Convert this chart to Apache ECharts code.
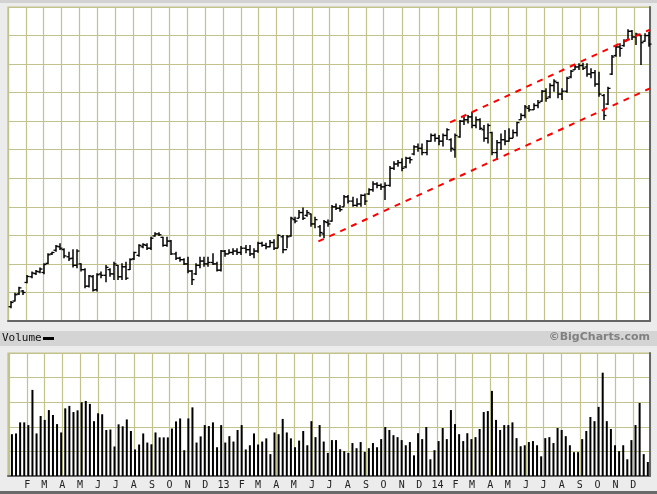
<!DOCTYPE html>
<html>
<head>
<meta charset="utf-8">
<script src="https://cdn.jsdelivr.net/npm/echarts@6/dist/echarts.min.js"></script>
<style>
html, body { margin: 0; padding: 0; background: #ececec; }
#chart { width: 657px; height: 494px; }
</style>
</head>
<body>
<div id="chart"></div>
<script>
// weekly OHLC bars, first bar is the week of 2012-01-06
const firstWeek = '2012-01-06';

const opens = [
  5.0, 7.0, 9.5, 10.5, 13.5, 15.5, 16.6, 17.2, 17.0, 20.2,
  23.5, 24.8, 26.0, 25.0, 22.5, 22.0, 19.5, 20.0, 18.0, 12.2,
  15.5, 11.0, 16.5, 16.0, 18.0, 16.5, 19.5, 15.5, 19.0, 18.0,
  21.8, 23.0, 26.0, 26.5, 25.5, 29.8, 30.5, 29.3, 26.5, 28.0,
  23.5, 22.0, 21.5, 20.0, 17.5, 16.5, 19.5, 21.0, 20.0, 20.5,
  20.0, 17.8, 24.5, 23.5, 24.0, 24.5, 24.0, 25.5, 25.0, 23.5,
  24.5, 27.2, 26.5, 26.0, 27.5, 25.5, 29.5, 25.0, 29.8, 35.5,
  36.0, 38.0, 37.0, 37.5, 34.0, 33.0, 30.5, 34.5, 35.0, 40.0,
  39.5, 40.0, 43.5, 42.0, 40.5, 41.0, 44.0, 44.5, 46.0, 48.0,
  47.5, 47.0, 47.5, 53.5, 55.0, 55.5, 54.0, 57.0, 58.5, 61.0,
  60.5, 59.0, 63.0, 65.0, 64.0, 63.0, 65.0, 63.5, 60.0, 64.5,
  70.0, 70.5, 71.5, 68.5, 70.5, 67.0, 64.0, 66.0, 59.0, 62.5,
  63.5, 63.0, 64.0, 66.0, 70.5, 72.0, 74.5, 74.0, 75.5, 77.0,
  80.5, 78.5, 82.5, 83.5, 79.5, 80.5, 85.5, 88.0, 89.0, 89.5,
  89.0, 86.5, 87.0, 83.0, 79.0, 76.0, 86.5, 93.0, 96.0, 96.5,
  98.5, 101.5, 99.5, 100.0, 98.0, 100.0
];
const highs = [
  7.0, 9.9, 12.0, 10.9, 16.1, 17.3, 17.9, 18.7, 20.2, 23.7,
  24.3, 26.6, 27.2, 25.5, 24.3, 25.1, 25.1, 20.2, 18.5, 16.1,
  16.1, 16.7, 17.3, 19.6, 18.5, 20.8, 19.6, 20.2, 20.8, 22.0,
  24.3, 26.9, 27.2, 27.2, 29.5, 31.1, 31.1, 29.5, 29.5, 28.4,
  24.3, 22.5, 22.0, 22.5, 17.9, 20.2, 22.5, 22.5, 22.5, 23.7,
  20.8, 24.9, 24.9, 25.1, 25.5, 25.5, 26.3, 26.6, 26.6, 25.5,
  27.8, 27.8, 27.4, 28.4, 28.6, 30.4, 30.1, 30.1, 36.5, 36.5,
  38.9, 39.8, 38.9, 37.7, 36.5, 33.6, 35.4, 35.6, 40.6, 41.2,
  40.6, 44.1, 44.1, 43.5, 43.0, 44.4, 44.7, 46.5, 49.0, 48.6,
  48.2, 48.6, 54.3, 56.0, 56.4, 57.0, 57.5, 57.5, 61.6, 62.2,
  62.2, 63.4, 65.7, 65.7, 65.2, 65.7, 67.5, 64.0, 65.7, 70.4,
  71.6, 72.2, 73.3, 71.6, 71.0, 68.7, 69.2, 66.3, 63.4, 65.7,
  66.9, 67.5, 67.1, 69.8, 72.8, 75.7, 75.7, 76.3, 77.4, 80.9,
  81.5, 83.3, 84.7, 83.8, 81.5, 85.6, 87.9, 89.7, 90.3, 90.5,
  90.3, 88.5, 87.9, 87.3, 79.5, 82.1, 93.2, 96.7, 97.3, 98.7,
  102.2, 101.9, 101.0, 100.2, 100.8, 101.3
];
const lows = [
  4.5, 6.8, 9.1, 9.1, 13.2, 15.0, 16.1, 16.7, 16.4, 19.9,
  23.1, 24.3, 24.9, 22.0, 21.0, 18.7, 18.5, 17.3, 11.5, 11.7,
  10.3, 10.3, 15.0, 13.6, 15.5, 14.4, 14.4, 14.4, 14.4, 17.9,
  21.4, 22.5, 25.5, 24.9, 24.9, 29.5, 29.8, 26.0, 26.0, 23.1,
  21.4, 20.8, 19.6, 16.7, 12.6, 16.1, 18.5, 19.0, 19.0, 19.6,
  17.3, 17.3, 22.5, 23.5, 23.1, 23.1, 23.1, 23.7, 22.8, 22.0,
  23.9, 26.0, 25.1, 25.8, 24.9, 25.5, 23.7, 25.5, 29.5, 34.2,
  36.0, 35.4, 36.5, 33.0, 32.5, 29.5, 29.0, 33.0, 34.8, 38.9,
  38.3, 40.0, 41.2, 40.0, 40.0, 40.0, 40.6, 44.1, 45.3, 46.5,
  45.9, 42.4, 47.0, 52.9, 54.0, 52.5, 53.5, 55.2, 58.1, 59.3,
  58.1, 58.1, 62.8, 62.8, 61.6, 61.1, 63.4, 59.3, 57.2, 64.2,
  68.7, 69.2, 67.5, 67.5, 66.9, 62.8, 62.2, 58.1, 56.4, 59.9,
  61.6, 62.8, 64.0, 64.6, 70.4, 71.0, 73.3, 73.9, 74.5, 76.8,
  76.8, 78.0, 80.3, 78.0, 77.4, 80.0, 85.0, 87.9, 87.9, 87.9,
  85.6, 85.0, 82.1, 78.6, 70.4, 75.7, 86.2, 92.6, 92.6, 96.1,
  98.4, 98.4, 96.7, 89.7, 97.8, 96.1
];
const closes = [
  6.5, 9.2, 11.6, 10.0, 15.6, 16.8, 17.4, 18.2, 19.8, 23.2,
  24.0, 26.2, 25.5, 22.8, 21.8, 19.5, 24.5, 18.0, 12.2, 15.8,
  10.8, 16.2, 16.0, 18.8, 16.5, 20.0, 15.5, 19.0, 15.0, 21.5,
  24.0, 26.5, 26.8, 25.5, 29.0, 30.5, 30.2, 26.5, 28.0, 23.5,
  22.0, 21.5, 20.0, 17.5, 14.5, 19.5, 21.0, 20.0, 20.5, 20.0,
  17.8, 24.5, 23.5, 24.0, 24.5, 24.0, 25.5, 25.0, 23.5, 24.5,
  27.2, 26.5, 26.0, 27.5, 25.5, 30.0, 25.0, 29.5, 36.0, 35.0,
  38.0, 36.0, 38.0, 34.0, 35.5, 31.0, 34.8, 34.0, 40.0, 39.5,
  39.0, 43.5, 42.0, 40.5, 41.0, 44.0, 42.0, 46.0, 48.0, 47.5,
  47.0, 47.5, 53.5, 55.0, 55.5, 53.5, 57.0, 56.5, 61.0, 60.5,
  59.0, 63.0, 65.0, 64.0, 63.0, 65.0, 67.0, 60.5, 65.0, 70.0,
  70.5, 71.5, 68.5, 70.5, 67.5, 64.0, 68.5, 59.0, 62.5, 63.5,
  63.0, 64.0, 66.0, 69.5, 72.0, 75.0, 74.0, 75.5, 76.5, 80.5,
  78.0, 82.5, 84.0, 79.5, 80.5, 85.0, 87.5, 89.0, 89.5, 88.5,
  86.5, 87.0, 83.0, 79.5, 72.0, 81.5, 92.5, 96.0, 95.5, 98.0,
  101.5, 99.5, 100.5, 97.5, 100.0, 97.0
];
const volumes = [
  1.70, 1.73, 2.18, 2.18, 2.07, 3.50, 1.73, 2.44, 2.28, 2.68,
  2.48, 2.11, 1.77, 2.75, 2.85, 2.60, 2.67, 3.00, 3.05, 2.93,
  2.23, 2.55, 2.51, 1.87, 1.89, 1.20, 2.10, 2.02, 2.30, 1.83,
  1.08, 1.28, 1.73, 1.36, 1.29, 1.77, 1.57, 1.57, 1.57, 1.93,
  2.22, 2.34, 1.05, 2.34, 2.79, 1.36, 1.61, 2.07, 2.03, 2.18,
  1.17, 2.07, 1.36, 1.62, 1.40, 1.87, 2.07, 1.08, 1.25, 1.73,
  1.28, 1.40, 1.53, 0.89, 1.77, 1.70, 2.32, 1.77, 1.53, 1.17,
  1.44, 1.83, 1.25, 2.23, 1.58, 2.07, 1.40, 0.94, 1.46, 1.46,
  1.09, 1.01, 0.94, 1.34, 1.13, 1.38, 0.98, 1.13, 1.34, 1.17,
  1.50, 1.99, 1.87, 1.66, 1.58, 1.46, 1.25, 1.38, 0.84, 1.74,
  1.50, 1.99, 0.68, 1.05, 1.42, 1.95, 1.50, 2.68, 2.11, 1.70,
  1.42, 1.74, 1.50, 1.58, 1.91, 2.60, 2.64, 3.46, 2.28, 1.87,
  2.07, 2.07, 2.18, 1.54, 1.21, 1.25, 1.38, 1.42, 1.25, 0.80,
  1.54, 1.58, 1.34, 1.95, 1.87, 1.62, 1.25, 0.97, 0.97, 1.50,
  1.83, 2.40, 2.23, 2.81, 4.20, 2.23, 1.91, 1.25, 1.01, 1.25,
  0.68, 1.46, 2.07, 2.97, 0.89, 0.57
];

// month tick labels, January shows the two-digit year instead
const monthLetters = ['J', 'F', 'M', 'A', 'M', 'J', 'J', 'A', 'S', 'O', 'N', 'D'];

// red dashed channel lines
const lowerTrend = [['2013-06-12', 27.9], ['2014-12-28', 81.5]];
const upperTrend = [['2014-01-22', 69.6], ['2014-12-28', 102.1]];

const xMin = '2012-01-01';
const xMax = '2014-12-28';

const DAY = 24 * 3600 * 1000;
const t0 = echarts.time.parse(firstWeek).getTime();
const weeks = opens.map((v, i) => t0 + i * 7 * DAY);

const olive = '#c2c28c';
const edge = '#666';

const ohlcData = weeks.map((t, i) => [t, opens[i], highs[i], lows[i], closes[i]]);
const volData = weeks.map((t, i) => [t, volumes[i]]);

const renderOhlc = (params, api) => {
    const t = api.value(0);
    const o = api.coord([t, api.value(1)]);
    const h = api.coord([t, api.value(2)]);
    const l = api.coord([t, api.value(3)]);
    const c = api.coord([t, api.value(4)]);
    const x = Math.round(h[0]);
    const bar = { stroke: '#000', lineWidth: 1.5 };
    const tick = { stroke: '#000', lineWidth: 1.3 };
    return {
        type: 'group',
        children: [
            { type: 'line', shape: { x1: x, y1: h[1], x2: x, y2: l[1] }, style: bar },
            { type: 'line', shape: { x1: x - 2.5, y1: o[1], x2: x, y2: o[1] }, style: tick },
            { type: 'line', shape: { x1: x, y1: c[1], x2: x + 2.5, y2: c[1] }, style: tick }
        ]
    };
};

const timeAxis = (gridIndex, withLabels) => ({
    gridIndex: gridIndex,
    type: 'time',
    min: xMin,
    max: xMax,
    splitNumber: 36,
    axisTick: { show: false },
    axisLine: { show: true, lineStyle: { color: edge, width: 2 } },
    splitLine: { show: true, lineStyle: { color: olive, width: 1.2 } },
    axisLabel: {
        show: withLabels,
        hideOverlap: false,
        margin: 4,
        fontFamily: 'DejaVu Sans Mono',
        fontSize: 10,
        color: '#222',
        formatter: (value) => {
            const d = new Date(value);
            if (d.getDate() !== 1) return '';
            if (d.getMonth() === 0) {
                return d.getFullYear() === 2012 ? '' : String(d.getFullYear()).slice(2);
            }
            return monthLetters[d.getMonth()];
        }
    }
});

const valueAxis = (gridIndex, max) => ({
    gridIndex: gridIndex,
    type: 'value',
    position: 'right',
    min: 0,
    max: max,
    interval: max === 110 ? 10 : 1,
    axisLabel: { show: false },
    axisTick: { show: false },
    axisLine: { show: true, lineStyle: { color: edge, width: 2 } },
    splitLine: { show: true, lineStyle: { color: olive, width: 1.2 } }
});

const chart = echarts.init(document.getElementById('chart'));

chart.setOption({
    animation: false,
    backgroundColor: '#ececec',
    grid: [
        { left: 8, top: 7, width: 642, height: 314, show: true, backgroundColor: '#fff', borderColor: olive, borderWidth: 1.2 },
        { left: 8, top: 353, width: 642, height: 123, show: true, backgroundColor: '#fff', borderColor: olive, borderWidth: 1.2 }
    ],
    xAxis: [timeAxis(0, false), timeAxis(1, true)],
    yAxis: [valueAxis(0, 110), valueAxis(1, 5)],
    graphic: [
        { type: 'rect', left: 0, top: 0, shape: { width: 657, height: 3 }, style: { fill: '#d2d2d2' } },
        { type: 'rect', left: 0, top: 331, shape: { width: 657, height: 15 }, style: { fill: '#d4d4d4' } },
        { type: 'text', left: 2, top: 333, style: { text: 'Volume', font: '11px "DejaVu Sans Mono"', fill: '#111' } },
        { type: 'rect', left: 43, top: 337, shape: { width: 11, height: 3 }, style: { fill: '#000' } },
        { type: 'text', right: 7, top: 332, style: { text: '©BigCharts.com', font: 'bold 11px "DejaVu Sans"', fill: '#808080' } },
        { type: 'rect', left: 0, top: 491, shape: { width: 657, height: 3 }, style: { fill: '#6a6a6a' } }
    ],
    series: [
        {
            type: 'custom',
            xAxisIndex: 0,
            yAxisIndex: 0,
            renderItem: renderOhlc,
            encode: { x: 0, y: [1, 2, 3, 4] },
            data: ohlcData,
            z: 3
        },
        {
            type: 'line',
            xAxisIndex: 0,
            yAxisIndex: 0,
            data: lowerTrend,
            showSymbol: false,
            lineStyle: { color: '#ff0000', width: 2, type: [6, 6] },
            z: 4
        },
        {
            type: 'line',
            xAxisIndex: 0,
            yAxisIndex: 0,
            data: upperTrend,
            showSymbol: false,
            lineStyle: { color: '#ff0000', width: 2, type: [6, 6] },
            z: 4
        },
        {
            type: 'bar',
            xAxisIndex: 1,
            yAxisIndex: 1,
            data: volData,
            barWidth: 2,
            itemStyle: { color: '#000' }
        }
    ]
});
</script>
</body>
</html>
